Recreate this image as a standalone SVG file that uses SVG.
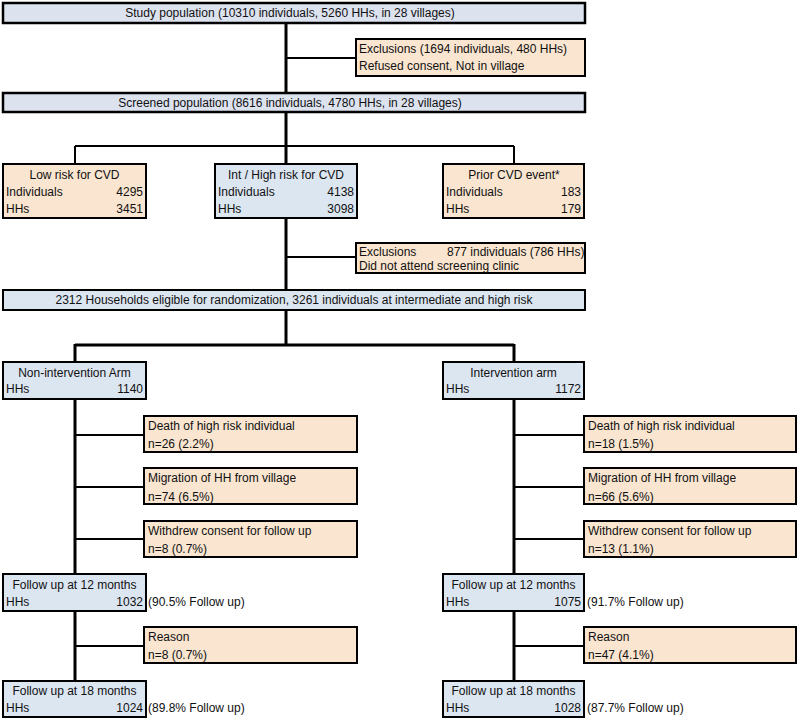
<svg xmlns="http://www.w3.org/2000/svg" width="800" height="721" viewBox="0 0 800 721">
<style>
.bl{fill:#dce6f1;stroke:#000;stroke-width:2}
.lv{fill:#dde2ef;stroke:#000;stroke-width:2.5}
.pc{fill:#f9e5d0;stroke:#000;stroke-width:2}
text{font-family:"Liberation Sans",Arial,sans-serif;font-size:12px;fill:#111}
.c{text-anchor:middle}
.r{text-anchor:end}
.tk{stroke:#000;stroke-width:3;fill:none}
.tn{stroke:#000;stroke-width:2;fill:none}
</style>
<rect width="800" height="721" fill="#fff"/>
<g id="connectors">
<path class="tk" d="M286 23V93M286 112V164M286 218V290M286 310V345"/>
<path class="tn" d="M286 58H356M286 257H356"/>
<path class="tn" d="M75 146H514M75 146V164M514 146V164"/>
<path class="tk" d="M75 345H514M75 344V362M514 344V362"/>
<path class="tk" d="M75 399V574M75 611V681M514 399V574M514 611V681"/>
<path class="tn" d="M75 435H144M75 487H144M75 539H144M75 646H144"/>
<path class="tn" d="M514 435H584M514 487H584M514 539H584M514 646H584"/>
</g>
<g id="study">
<rect class="lv" x="3" y="3" width="582" height="20"/>
<text class="c" x="290" y="17">Study population (10310 individuals, 5260 HHs, in 28 villages)</text>
</g>
<g id="exclusions1">
<rect class="pc" x="356" y="39" width="229" height="37"/>
<text x="359" y="53">Exclusions (1694 individuals, 480 HHs)</text>
<text x="359" y="70">Refused consent, Not in village</text>
</g>
<g id="screened">
<rect class="lv" x="3" y="93" width="582" height="19"/>
<text class="c" x="290" y="107">Screened population (8616 individuals, 4780 HHs, in 28 villages)</text>
</g>
<g id="lowrisk">
<rect class="pc" x="3" y="164" width="143" height="54"/>
<text class="c" x="74.5" y="179">Low risk for CVD</text>
<text x="6" y="196">Individuals</text><text class="r" x="143" y="196">4295</text>
<text x="6" y="213">HHs</text><text class="r" x="143" y="213">3451</text>
</g>
<g id="highrisk">
<rect class="bl" x="215" y="164" width="142" height="54"/>
<text class="c" x="286" y="179">Int / High risk for CVD</text>
<text x="218" y="196">Individuals</text><text class="r" x="354" y="196">4138</text>
<text x="218" y="213">HHs</text><text class="r" x="354" y="213">3098</text>
</g>
<g id="prior">
<rect class="pc" x="443" y="164" width="141" height="54"/>
<text class="c" x="514" y="179">Prior CVD event*</text>
<text x="446" y="196">Individuals</text><text class="r" x="581" y="196">183</text>
<text x="446" y="213">HHs</text><text class="r" x="581" y="213">179</text>
</g>
<g id="exclusions2">
<rect class="pc" x="356" y="243" width="229" height="30"/>
<text x="359" y="256">Exclusions</text>
<text x="447" y="256">877 individuals (786 HHs)</text>
<text x="359" y="270">Did not attend screening clinic</text>
</g>
<g id="eligible">
<rect class="bl" x="3" y="290" width="582" height="20"/>
<text class="c" x="294" y="304">2312 Households eligible for randomization, 3261 individuals at intermediate and high risk</text>
</g>
<g id="nonint">
<rect class="bl" x="3" y="362" width="143" height="37"/>
<text class="c" x="74.5" y="377">Non-intervention Arm</text>
<text x="6" y="393">HHs</text><text class="r" x="143" y="393">1140</text>
</g>
<g id="int">
<rect class="bl" x="443" y="362" width="141" height="37"/>
<text class="c" x="513.5" y="377">Intervention arm</text>
<text x="446" y="393">HHs</text><text class="r" x="581" y="393">1172</text>
</g>
<g id="deathL">
<rect class="pc" x="144" y="416" width="213" height="36"/>
<text x="148" y="430">Death of high risk individual</text>
<text x="148" y="448">n=26 (2.2%)</text>
</g>
<g id="migL">
<rect class="pc" x="144" y="468" width="213" height="36"/>
<text x="148" y="482">Migration of HH from village</text>
<text x="148" y="501">n=74 (6.5%)</text>
</g>
<g id="withL">
<rect class="pc" x="144" y="521" width="213" height="36"/>
<text x="148" y="535">Withdrew consent for follow up</text>
<text x="148" y="553">n=8 (0.7%)</text>
</g>
<g id="deathR">
<rect class="pc" x="584" y="416" width="212" height="36"/>
<text x="588" y="430">Death of high risk individual</text>
<text x="588" y="448">n=18 (1.5%)</text>
</g>
<g id="migR">
<rect class="pc" x="584" y="468" width="212" height="36"/>
<text x="588" y="482">Migration of HH from village</text>
<text x="588" y="501">n=66 (5.6%)</text>
</g>
<g id="withR">
<rect class="pc" x="584" y="521" width="212" height="36"/>
<text x="588" y="535">Withdrew consent for follow up</text>
<text x="588" y="553">n=13 (1.1%)</text>
</g>
<g id="fu12L">
<rect class="bl" x="3" y="574" width="143" height="37"/>
<text class="c" x="74.5" y="589">Follow up at 12 months</text>
<text x="6" y="606">HHs</text><text class="r" x="143" y="606">1032</text>
<text x="148" y="606">(90.5% Follow up)</text>
</g>
<g id="fu12R">
<rect class="bl" x="443" y="574" width="141" height="37"/>
<text class="c" x="513.5" y="589">Follow up at 12 months</text>
<text x="446" y="606">HHs</text><text class="r" x="581" y="606">1075</text>
<text x="587" y="606">(91.7% Follow up)</text>
</g>
<g id="reasonL">
<rect class="pc" x="144" y="627" width="213" height="36"/>
<text x="148" y="641">Reason</text>
<text x="148" y="659">n=8 (0.7%)</text>
</g>
<g id="reasonR">
<rect class="pc" x="584" y="627" width="212" height="36"/>
<text x="588" y="641">Reason</text>
<text x="588" y="659">n=47 (4.1%)</text>
</g>
<g id="fu18L">
<rect class="bl" x="3" y="681" width="143" height="36"/>
<text class="c" x="74.5" y="695">Follow up at 18 months</text>
<text x="6" y="712">HHs</text><text class="r" x="143" y="712">1024</text>
<text x="148" y="712">(89.8% Follow up)</text>
</g>
<g id="fu18R">
<rect class="bl" x="443" y="681" width="141" height="36"/>
<text class="c" x="513.5" y="695">Follow up at 18 months</text>
<text x="446" y="712">HHs</text><text class="r" x="581" y="712">1028</text>
<text x="587" y="712">(87.7% Follow up)</text>
</g>
</svg>
